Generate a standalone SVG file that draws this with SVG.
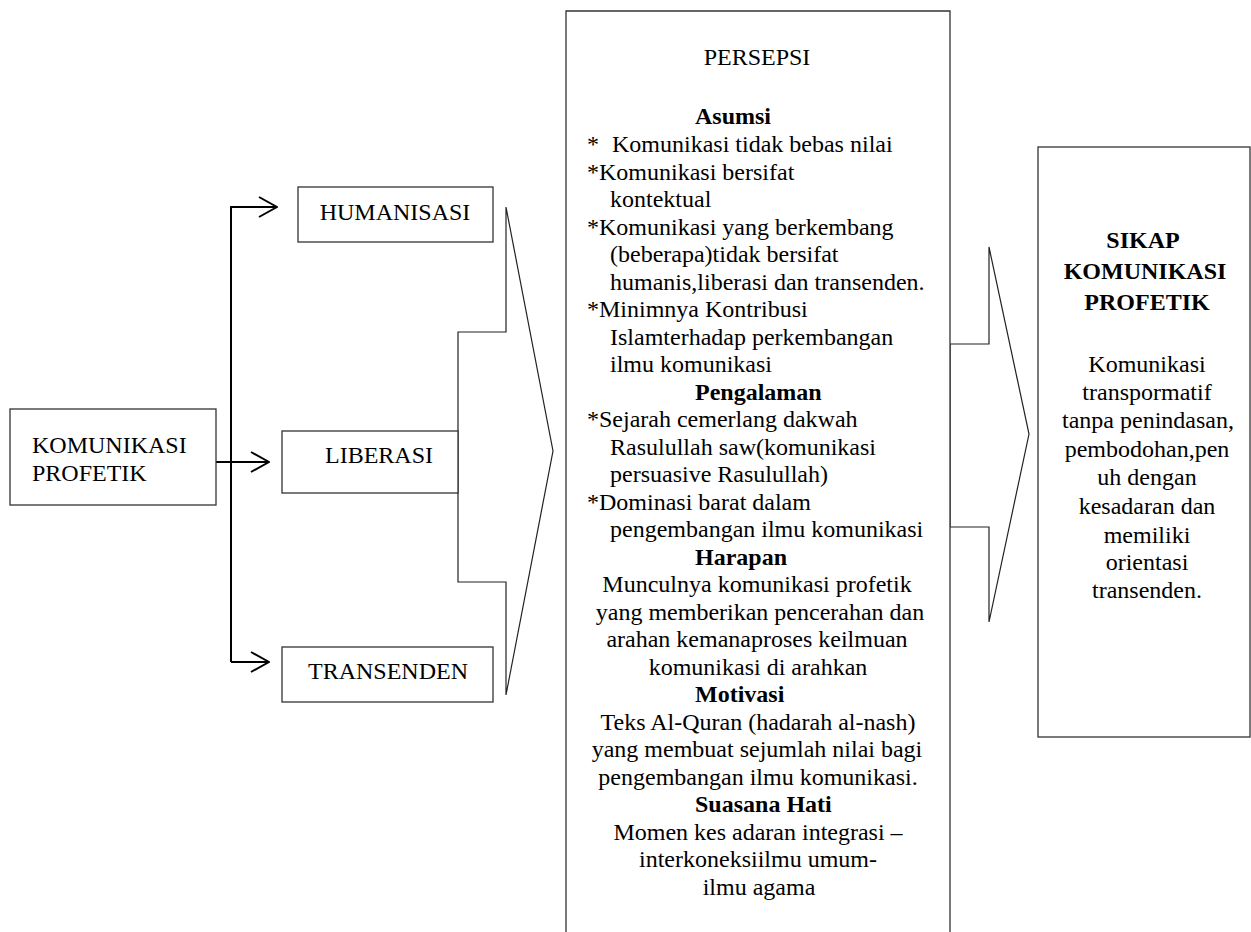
<svg xmlns="http://www.w3.org/2000/svg" width="1251" height="932" viewBox="0 0 1251 932">
<style>
  .box { fill: #ffffff; stroke: #333333; stroke-width: 1.3; }
  .t { font-family: "Liberation Serif", "Times New Roman", serif; font-size: 24px; fill: #000000; }
  .b { font-weight: bold; }
  .c { text-anchor: middle; }
  .wire { fill: none; stroke: #000000; stroke-width: 2; }
  .block { fill: none; stroke: #222222; stroke-width: 1.2; stroke-linejoin: miter; }
</style>
<defs>
  <marker id="open" viewBox="0 0 20 22" refX="19" refY="11" markerWidth="20" markerHeight="22" markerUnits="userSpaceOnUse" orient="auto">
    <path d="M1,1 L19,11 L1,21" fill="none" stroke="#000000" stroke-width="2"/>
  </marker>
</defs>
<rect width="1251" height="932" fill="#ffffff"/>

<g id="connectors">
  <path class="wire" d="M231,662 L231,207 L277,207" marker-end="url(#open)"/>
  <path class="wire" d="M216,462 L269,462" marker-end="url(#open)"/>
  <path class="wire" d="M231,662 L269,662" marker-end="url(#open)"/>
  <path class="block" d="M506,207 L506,332 L458,332 L458,582 L506,582 L506,695 L553,451 Z"/>
  <path class="block" d="M989,247 L989,344 L950,344 L950,527 L989,527 L989,622 L1029,434 Z"/>
</g>

<g id="node-komunikasi-profetik">
  <rect class="box" x="10" y="409" width="206" height="96"/>
  <text class="t" x="32" y="453">KOMUNIKASI</text>
  <text class="t" x="32" y="481">PROFETIK</text>
</g>

<g id="node-humanisasi">
  <rect class="box" x="298" y="187" width="195" height="55"/>
  <text class="t c" x="395" y="220">HUMANISASI</text>
</g>

<g id="node-liberasi">
  <rect class="box" x="282" y="431" width="176" height="62"/>
  <text class="t c" x="379" y="463">LIBERASI</text>
</g>

<g id="node-transenden">
  <rect class="box" x="282" y="647" width="211" height="55"/>
  <text class="t c" x="388" y="679">TRANSENDEN</text>
</g>

<g id="node-persepsi">
  <path class="box" d="M566,945 L566,11 L950,11 L950,945" fill="none"/>
  <text class="t c" x="757" y="65">PERSEPSI</text>
  <text class="t b" x="695" y="124">Asumsi</text>
  <text class="t" y="152"><tspan x="587">*</tspan><tspan x="612">Komunikasi tidak bebas nilai</tspan></text>
  <text class="t" x="587" y="179.5">*Komunikasi bersifat</text>
  <text class="t" x="610" y="207">kontektual</text>
  <text class="t" x="587" y="234.5">*Komunikasi yang berkembang</text>
  <text class="t" x="610" y="262">(beberapa)tidak bersifat</text>
  <text class="t" x="610" y="289.5">humanis,liberasi dan transenden.</text>
  <text class="t" x="587" y="317">*Minimnya Kontribusi</text>
  <text class="t" x="610" y="344.5">Islamterhadap perkembangan</text>
  <text class="t" x="610" y="372">ilmu komunikasi</text>
  <text class="t b" x="695" y="399.5">Pengalaman</text>
  <text class="t" x="587" y="427">*Sejarah cemerlang dakwah</text>
  <text class="t" x="610" y="454.5">Rasulullah saw(komunikasi</text>
  <text class="t" x="610" y="482">persuasive Rasulullah)</text>
  <text class="t" x="587" y="509.5">*Dominasi barat dalam</text>
  <text class="t" x="610" y="537">pengembangan ilmu komunikasi</text>
  <text class="t b" x="695" y="564.5">Harapan</text>
  <text class="t c" x="757" y="592">Munculnya komunikasi profetik</text>
  <text class="t c" x="760" y="619.5">yang memberikan pencerahan dan</text>
  <text class="t c" x="757" y="647">arahan kemanaproses keilmuan</text>
  <text class="t c" x="758" y="674.5">komunikasi di arahkan</text>
  <text class="t b" x="695" y="702">Motivasi</text>
  <text class="t c" x="758" y="729.5">Teks Al-Quran (hadarah al-nash)</text>
  <text class="t c" x="757" y="757">yang membuat sejumlah nilai bagi</text>
  <text class="t c" x="758" y="784.5">pengembangan ilmu komunikasi.</text>
  <text class="t b" x="695" y="812">Suasana Hati</text>
  <text class="t c" x="758" y="839.5">Momen kes adaran integrasi –</text>
  <text class="t c" x="758" y="867">interkoneksiilmu umum-</text>
  <text class="t c" x="759" y="894.5">ilmu agama</text>
</g>

<g id="node-sikap">
  <rect class="box" x="1038" y="147" width="212" height="590"/>
  <text class="t b c" x="1143" y="248">SIKAP</text>
  <text class="t b c" x="1145" y="279">KOMUNIKASI</text>
  <text class="t b c" x="1147" y="310">PROFETIK</text>
  <text class="t c" x="1147" y="372">Komunikasi</text>
  <text class="t c" x="1147" y="400">transpormatif</text>
  <text class="t c" x="1148" y="428">tanpa penindasan,</text>
  <text class="t c" x="1147" y="457">pembodohan,pen</text>
  <text class="t c" x="1147" y="485">uh dengan</text>
  <text class="t c" x="1147" y="514">kesadaran dan</text>
  <text class="t c" x="1147" y="543">memiliki</text>
  <text class="t c" x="1147" y="570">orientasi</text>
  <text class="t c" x="1147" y="598">transenden.</text>
</g>
</svg>
